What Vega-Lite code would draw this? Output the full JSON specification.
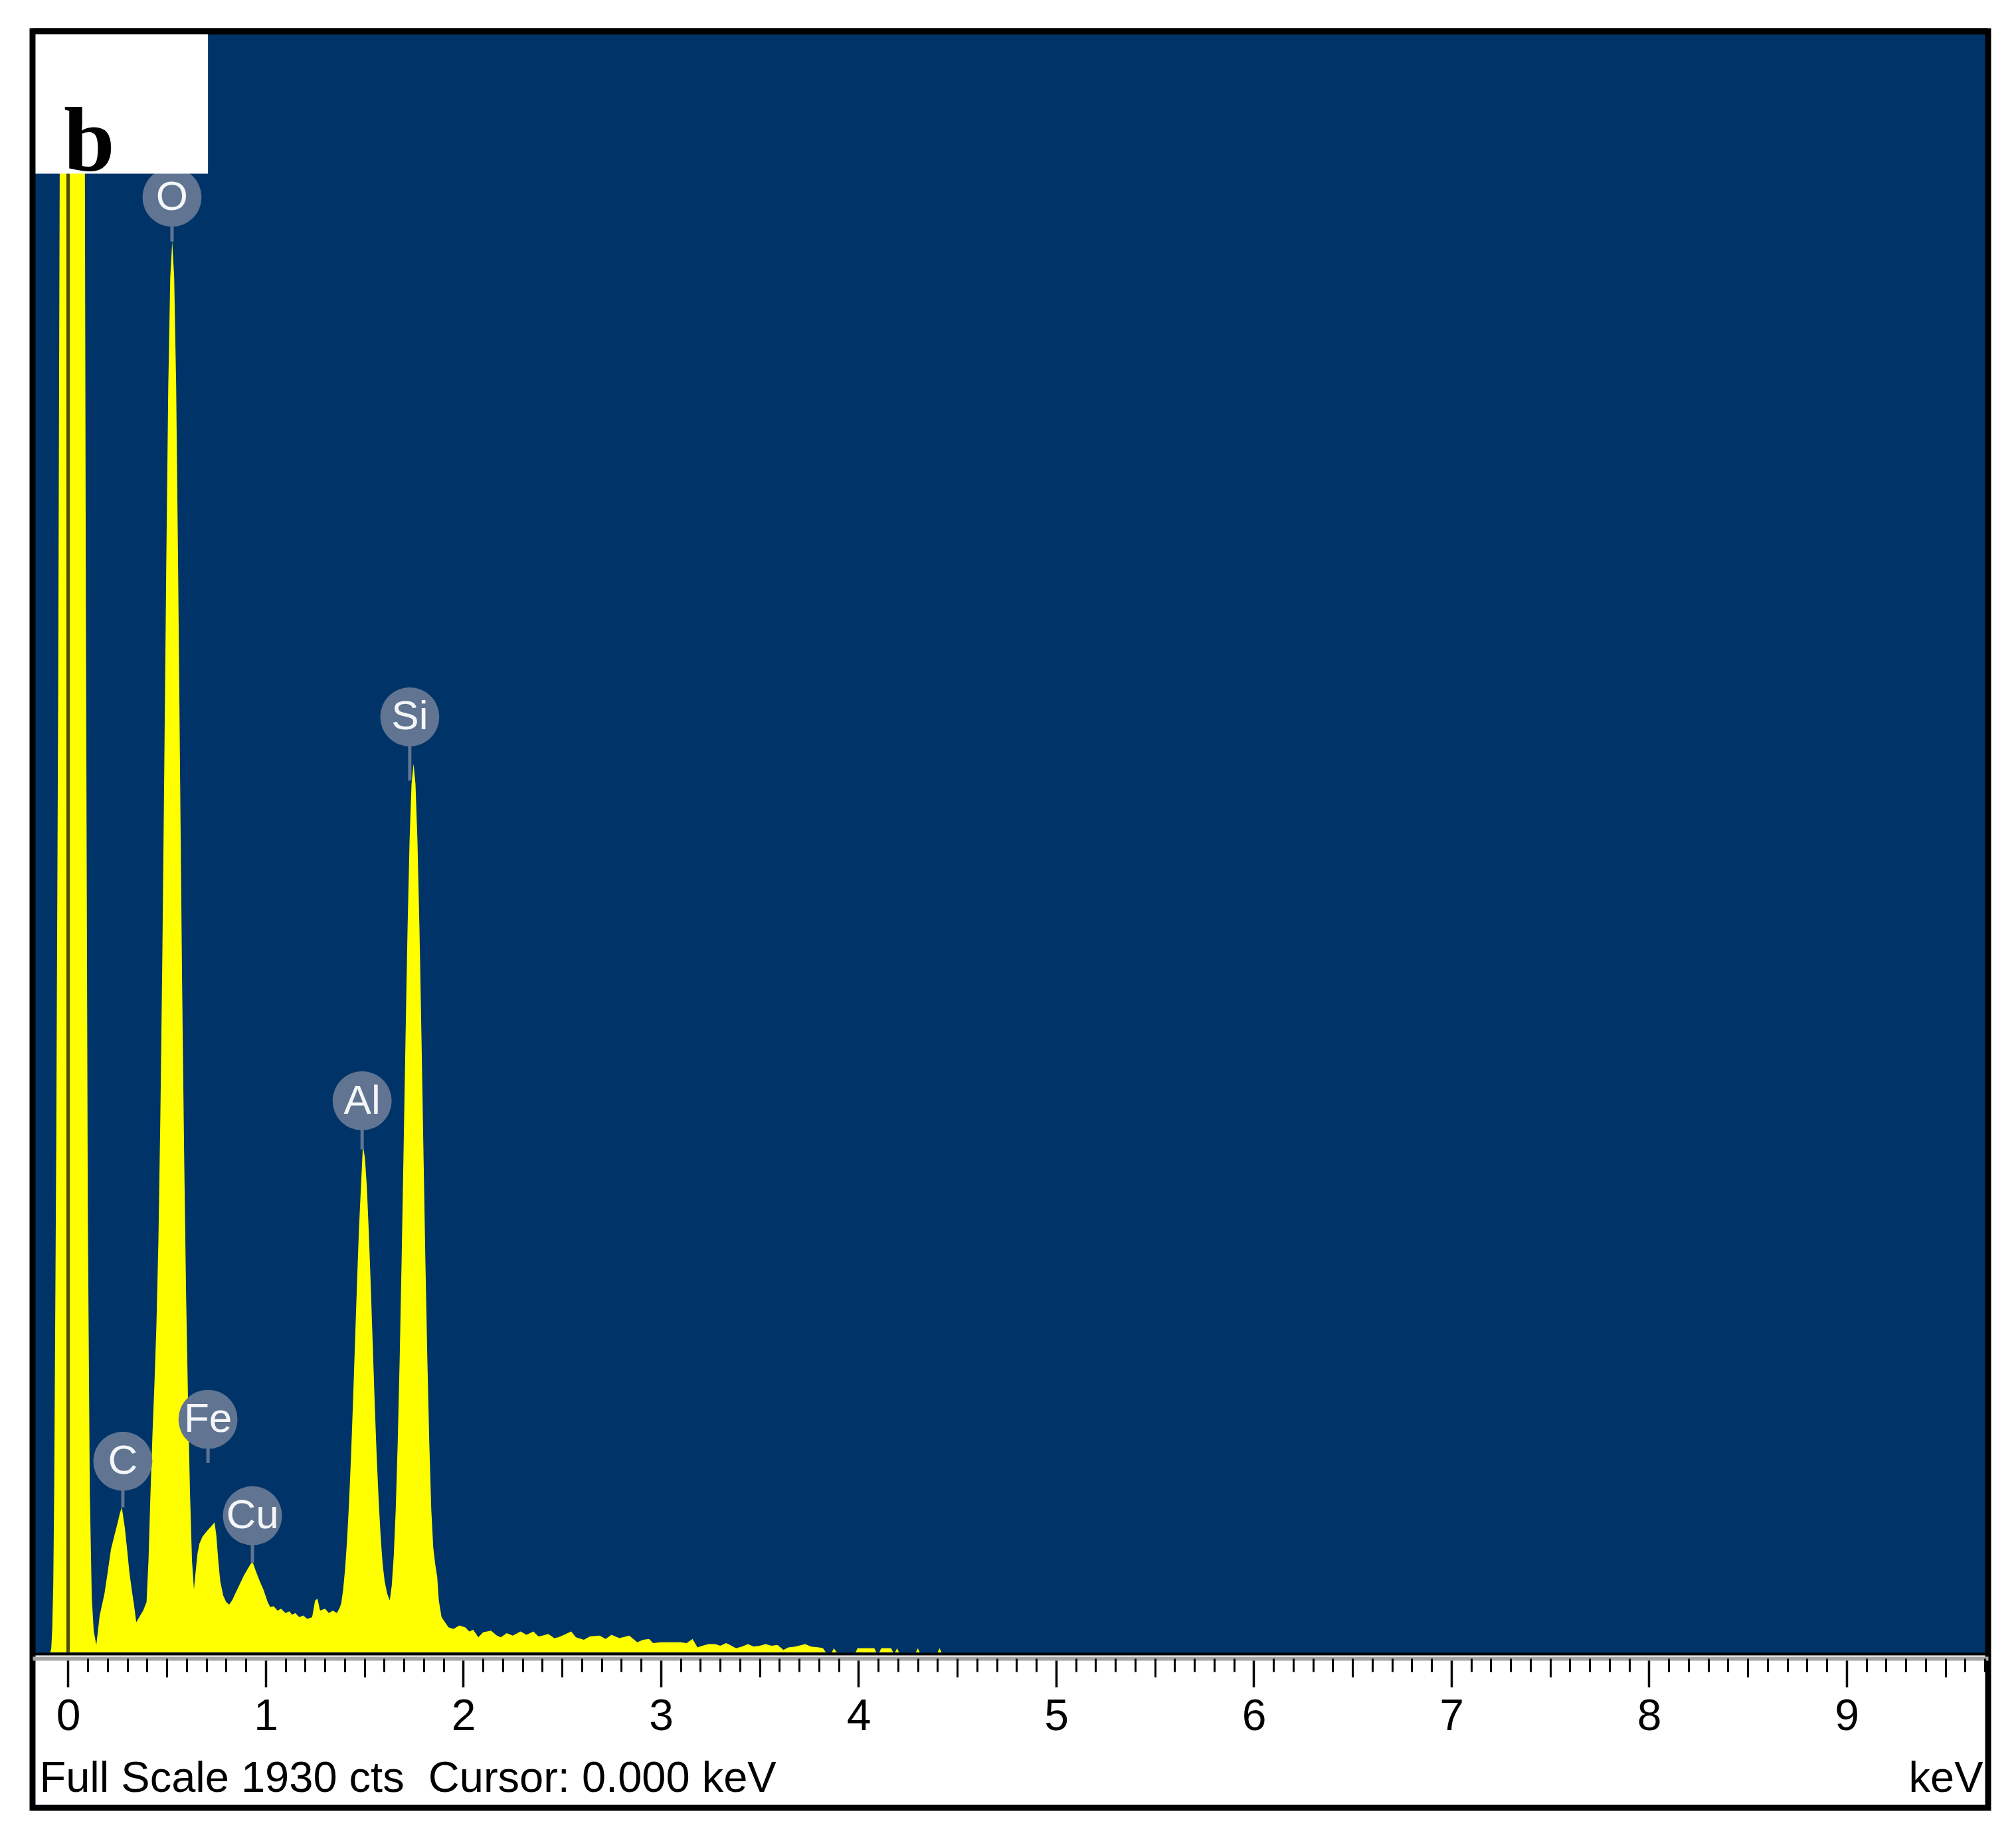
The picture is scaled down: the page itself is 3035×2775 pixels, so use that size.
{
  "$schema": "https://vega.github.io/schema/vega-lite/v6.json",
  "width": 2944,
  "height": 2675,
  "autosize": {"type": "none"},
  "padding": {"left": 49, "top": 47, "right": 42, "bottom": 53},
  "background": "#ffffff",
  "config": {"view": {"fill": "#003468", "stroke": "#000000", "strokeWidth": 9}},
  "datasets": {
    "spectrum": [
      {"e": -0.18, "c": 0}, {"e": -0.09, "c": 0}, {"e": -0.085, "c": 5}, {"e": -0.08, "c": 30}, {"e": -0.075, "c": 80},
      {"e": -0.07, "c": 200}, {"e": -0.06, "c": 600}, {"e": -0.05, "c": 1150}, {"e": -0.04, "c": 1950}, {"e": -0.03, "c": 2800},
      {"e": -0.02, "c": 3600}, {"e": 0, "c": 4000}, {"e": 0.02, "c": 4000}, {"e": 0.04, "c": 4000}, {"e": 0.06, "c": 3800},
      {"e": 0.07, "c": 3200}, {"e": 0.08, "c": 2300}, {"e": 0.09, "c": 1250}, {"e": 0.1, "c": 520}, {"e": 0.11, "c": 190},
      {"e": 0.12, "c": 65}, {"e": 0.13, "c": 25}, {"e": 0.143, "c": 9},
      {"e": 0.16, "c": 44}, {"e": 0.184, "c": 70}, {"e": 0.2, "c": 95}, {"e": 0.217, "c": 123}, {"e": 0.235, "c": 140},
      {"e": 0.25, "c": 154}, {"e": 0.262, "c": 166}, {"e": 0.272, "c": 173}, {"e": 0.287, "c": 149}, {"e": 0.3, "c": 120},
      {"e": 0.31, "c": 96}, {"e": 0.322, "c": 75}, {"e": 0.334, "c": 56}, {"e": 0.345, "c": 36},
      {"e": 0.36, "c": 42}, {"e": 0.38, "c": 50}, {"e": 0.397, "c": 60}, {"e": 0.407, "c": 110}, {"e": 0.417, "c": 190},
      {"e": 0.427, "c": 260}, {"e": 0.437, "c": 320}, {"e": 0.447, "c": 390}, {"e": 0.457, "c": 490}, {"e": 0.467, "c": 640},
      {"e": 0.477, "c": 830}, {"e": 0.487, "c": 1060}, {"e": 0.497, "c": 1300}, {"e": 0.507, "c": 1510}, {"e": 0.517, "c": 1640},
      {"e": 0.527, "c": 1683}, {"e": 0.537, "c": 1640}, {"e": 0.547, "c": 1510}, {"e": 0.557, "c": 1290}, {"e": 0.567, "c": 1040},
      {"e": 0.577, "c": 800}, {"e": 0.587, "c": 600}, {"e": 0.597, "c": 430}, {"e": 0.607, "c": 300}, {"e": 0.617, "c": 190},
      {"e": 0.627, "c": 110}, {"e": 0.637, "c": 75},
      {"e": 0.645, "c": 95}, {"e": 0.655, "c": 118}, {"e": 0.665, "c": 130}, {"e": 0.68, "c": 138}, {"e": 0.69, "c": 141},
      {"e": 0.7, "c": 144}, {"e": 0.715, "c": 148}, {"e": 0.73, "c": 152}, {"e": 0.741, "c": 155}, {"e": 0.75, "c": 140},
      {"e": 0.76, "c": 110}, {"e": 0.77, "c": 85}, {"e": 0.785, "c": 68}, {"e": 0.8, "c": 60}, {"e": 0.815, "c": 57},
      {"e": 0.83, "c": 62}, {"e": 0.85, "c": 72}, {"e": 0.87, "c": 82}, {"e": 0.89, "c": 92}, {"e": 0.91, "c": 100},
      {"e": 0.925, "c": 106}, {"e": 0.935, "c": 107}, {"e": 0.95, "c": 97}, {"e": 0.97, "c": 85}, {"e": 0.99, "c": 74},
      {"e": 1.01, "c": 60}, {"e": 1.023, "c": 54}, {"e": 1.04, "c": 55}, {"e": 1.06, "c": 50}, {"e": 1.078, "c": 52},
      {"e": 1.1, "c": 47}, {"e": 1.12, "c": 49}, {"e": 1.134, "c": 45}, {"e": 1.15, "c": 47}, {"e": 1.17, "c": 42},
      {"e": 1.19, "c": 44}, {"e": 1.21, "c": 40}, {"e": 1.235, "c": 42}, {"e": 1.25, "c": 62}, {"e": 1.262, "c": 64},
      {"e": 1.275, "c": 50}, {"e": 1.3, "c": 52}, {"e": 1.32, "c": 47}, {"e": 1.34, "c": 50}, {"e": 1.36, "c": 47},
      {"e": 1.372, "c": 52},
      {"e": 1.382, "c": 58}, {"e": 1.392, "c": 75}, {"e": 1.402, "c": 100}, {"e": 1.412, "c": 135}, {"e": 1.422, "c": 180},
      {"e": 1.432, "c": 235}, {"e": 1.442, "c": 300}, {"e": 1.452, "c": 370}, {"e": 1.462, "c": 440}, {"e": 1.472, "c": 505},
      {"e": 1.482, "c": 555}, {"e": 1.492, "c": 605}, {"e": 1.502, "c": 590}, {"e": 1.512, "c": 555}, {"e": 1.522, "c": 500},
      {"e": 1.532, "c": 435}, {"e": 1.542, "c": 365}, {"e": 1.552, "c": 295}, {"e": 1.562, "c": 232}, {"e": 1.572, "c": 180},
      {"e": 1.582, "c": 137}, {"e": 1.592, "c": 105}, {"e": 1.602, "c": 85}, {"e": 1.615, "c": 70}, {"e": 1.628, "c": 62},
      {"e": 1.638, "c": 80}, {"e": 1.648, "c": 115}, {"e": 1.658, "c": 170}, {"e": 1.668, "c": 250}, {"e": 1.678, "c": 350},
      {"e": 1.688, "c": 470}, {"e": 1.698, "c": 602}, {"e": 1.708, "c": 738}, {"e": 1.718, "c": 865}, {"e": 1.728, "c": 968},
      {"e": 1.738, "c": 1036}, {"e": 1.748, "c": 1060}, {"e": 1.758, "c": 1036}, {"e": 1.768, "c": 968}, {"e": 1.778, "c": 865},
      {"e": 1.788, "c": 738}, {"e": 1.798, "c": 602}, {"e": 1.808, "c": 469}, {"e": 1.818, "c": 350}, {"e": 1.828, "c": 249},
      {"e": 1.838, "c": 170}, {"e": 1.848, "c": 125}, {"e": 1.858, "c": 105}, {"e": 1.868, "c": 90}, {"e": 1.876, "c": 62},
      {"e": 1.89, "c": 42}, {"e": 1.925, "c": 30},
      {"e": 1.95, "c": 28}, {"e": 1.98, "c": 32}, {"e": 2.01, "c": 30}, {"e": 2.03, "c": 25}, {"e": 2.05, "c": 27},
      {"e": 2.076, "c": 18}, {"e": 2.1, "c": 24}, {"e": 2.14, "c": 26}, {"e": 2.17, "c": 20}, {"e": 2.19, "c": 18},
      {"e": 2.22, "c": 23}, {"e": 2.25, "c": 20}, {"e": 2.29, "c": 25}, {"e": 2.32, "c": 21}, {"e": 2.355, "c": 25},
      {"e": 2.38, "c": 19}, {"e": 2.4, "c": 20}, {"e": 2.43, "c": 22}, {"e": 2.46, "c": 17}, {"e": 2.48, "c": 18},
      {"e": 2.51, "c": 21}, {"e": 2.546, "c": 25}, {"e": 2.57, "c": 18}, {"e": 2.61, "c": 15}, {"e": 2.64, "c": 19},
      {"e": 2.69, "c": 20}, {"e": 2.72, "c": 16}, {"e": 2.75, "c": 21}, {"e": 2.79, "c": 17}, {"e": 2.84, "c": 20},
      {"e": 2.88, "c": 12}, {"e": 2.91, "c": 15}, {"e": 2.94, "c": 16}, {"e": 2.96, "c": 11}, {"e": 3.0, "c": 12},
      {"e": 3.05, "c": 12}, {"e": 3.1, "c": 12}, {"e": 3.13, "c": 11}, {"e": 3.16, "c": 16}, {"e": 3.185, "c": 6},
      {"e": 3.21, "c": 8}, {"e": 3.24, "c": 10}, {"e": 3.275, "c": 10}, {"e": 3.3, "c": 8}, {"e": 3.33, "c": 11},
      {"e": 3.35, "c": 9}, {"e": 3.38, "c": 5}, {"e": 3.41, "c": 7}, {"e": 3.44, "c": 10}, {"e": 3.47, "c": 7},
      {"e": 3.5, "c": 8}, {"e": 3.53, "c": 10}, {"e": 3.56, "c": 8}, {"e": 3.59, "c": 9}, {"e": 3.62, "c": 3},
      {"e": 3.645, "c": 6}, {"e": 3.68, "c": 7}, {"e": 3.73, "c": 10}, {"e": 3.76, "c": 7}, {"e": 3.8, "c": 6},
      {"e": 3.82, "c": 5}, {"e": 3.835, "c": 0}, {"e": 3.865, "c": 0}, {"e": 3.875, "c": 5}, {"e": 3.89, "c": 0},
      {"e": 3.985, "c": 0}, {"e": 3.995, "c": 5}, {"e": 4.04, "c": 5}, {"e": 4.08, "c": 5}, {"e": 4.09, "c": 0},
      {"e": 4.105, "c": 0}, {"e": 4.115, "c": 5}, {"e": 4.165, "c": 5}, {"e": 4.175, "c": 0}, {"e": 4.185, "c": 0},
      {"e": 4.195, "c": 5}, {"e": 4.205, "c": 0}, {"e": 4.29, "c": 0}, {"e": 4.3, "c": 5}, {"e": 4.31, "c": 0},
      {"e": 4.4, "c": 0}, {"e": 4.41, "c": 5}, {"e": 4.42, "c": 0}, {"e": 9.716, "c": 0}
    ],
    "labels": [
      {"el": "O", "e": 0.526, "ly": 1736, "sy": 1683},
      {"el": "C", "e": 0.277, "ly": 228, "sy": 173},
      {"el": "Fe", "e": 0.708, "ly": 278, "sy": 226},
      {"el": "Cu", "e": 0.933, "ly": 163, "sy": 107},
      {"el": "Al", "e": 1.488, "ly": 658, "sy": 600},
      {"el": "Si", "e": 1.729, "ly": 1116, "sy": 1040}
    ]
  },
  "resolve": {"axis": {"x": "independent"}},
  "layer": [
    {
      "data": {"values": [{"part": "axis strip"}]},
      "mark": {"type": "rect", "fill": "#ffffff"},
      "encoding": {
        "x": {"datum": -0.1647, "type": "quantitative", "scale": {"domain": [-0.1798, 9.716], "nice": false, "zero": false}, "axis": null},
        "x2": {"datum": 9.701},
        "y": {"datum": -3.2, "type": "quantitative", "scale": {"domain": [-185.4, 1934], "nice": false, "zero": false}, "axis": null},
        "y2": {"datum": -181.8}
      }
    },
    {
      "data": {"name": "spectrum"},
      "mark": {"type": "area", "color": "#ffff00", "clip": true, "interpolate": "linear"},
      "encoding": {
        "x": {
          "field": "e", "type": "quantitative",
          "scale": {"domain": [-0.1798, 9.716], "nice": false, "zero": false},
          "axis": {
            "orient": "bottom", "offset": -225, "zindex": 1, "grid": false,
            "values": [0, 1, 2, 3, 4, 5, 6, 7, 8, 9], "format": "d",
            "domain": true, "domainColor": "#a6a6a6", "domainWidth": 6,
            "ticks": true, "tickSize": 43, "tickWidth": 3.5, "tickColor": "#000000",
            "labels": true, "labelFont": "Liberation Sans", "labelFontSize": 66, "labelColor": "#000000",
            "labelPadding": 12, "labelFlush": false, "labelOverlap": false,
            "title": "keV", "titleFont": "Liberation Sans", "titleFontSize": 65, "titleFontWeight": "normal",
            "titleColor": "#000000", "titleAlign": "right", "titleBaseline": "alphabetic", "titleX": 2936, "titleY": 200
          }
        },
        "y": {"field": "c", "type": "quantitative", "scale": {"domain": [-185.4, 1934], "nice": false, "zero": false}, "axis": null},
        "y2": {"datum": 0}
      }
    },
    {
      "data": {"values": [{"part": "baseline"}]},
      "mark": {"type": "rule", "color": "#000000", "strokeWidth": 4},
      "encoding": {
        "y": {"datum": -2, "type": "quantitative", "scale": {"domain": [-185.4, 1934], "nice": false, "zero": false}, "axis": null}
      }
    },
    {
      "data": {"values": [{"part": "cursor"}]},
      "mark": {"type": "rule", "color": "#000000", "strokeWidth": 5, "opacity": 0.7},
      "encoding": {
        "x": {"datum": 0, "type": "quantitative", "scale": {"domain": [-0.1798, 9.716], "nice": false, "zero": false}, "axis": null},
        "y": {"datum": 0, "type": "quantitative", "scale": {"domain": [-185.4, 1934], "nice": false, "zero": false}, "axis": null},
        "y2": {"datum": 1934}
      }
    },
    {
      "data": {"name": "labels"},
      "mark": {"type": "rule", "color": "#617592", "strokeWidth": 5},
      "encoding": {
        "x": {
          "field": "e", "type": "quantitative",
          "scale": {"domain": [-0.1798, 9.716], "nice": false, "zero": false},
          "axis": {
            "orient": "bottom", "offset": -225, "zindex": 1, "grid": false,
            "values": [0.5, 1.5, 2.5, 3.5, 4.5, 5.5, 6.5, 7.5, 8.5, 9.5],
            "domain": false, "ticks": true, "tickSize": 28, "tickWidth": 3, "tickColor": "#000000",
            "labels": false,
            "title": "Full Scale 1930 cts\u00a0 Cursor: 0.000 keV", "titleFont": "Liberation Sans", "titleFontSize": 65,
            "titleFontWeight": "normal", "titleColor": "#000000", "titleAlign": "left", "titleBaseline": "alphabetic",
            "titleX": 10, "titleY": 200
          }
        },
        "y": {"field": "ly", "type": "quantitative", "scale": {"domain": [-185.4, 1934], "nice": false, "zero": false}, "axis": null},
        "y2": {"field": "sy"}
      }
    },
    {
      "data": {"name": "labels"},
      "mark": {"type": "point", "shape": "circle", "filled": true, "color": "#617592", "opacity": 1, "size": 7900},
      "encoding": {
        "x": {
          "field": "e", "type": "quantitative",
          "scale": {"domain": [-0.1798, 9.716], "nice": false, "zero": false},
          "axis": {
            "orient": "bottom", "offset": -225, "zindex": 1, "grid": false,
            "values": [0.1, 0.2, 0.3, 0.4, 0.6, 0.7, 0.8, 0.9, 1.1, 1.2, 1.3, 1.4, 1.6, 1.7, 1.8, 1.9,
                       2.1, 2.2, 2.3, 2.4, 2.6, 2.7, 2.8, 2.9, 3.1, 3.2, 3.3, 3.4, 3.6, 3.7, 3.8, 3.9,
                       4.1, 4.2, 4.3, 4.4, 4.6, 4.7, 4.8, 4.9, 5.1, 5.2, 5.3, 5.4, 5.6, 5.7, 5.8, 5.9,
                       6.1, 6.2, 6.3, 6.4, 6.6, 6.7, 6.8, 6.9, 7.1, 7.2, 7.3, 7.4, 7.6, 7.7, 7.8, 7.9,
                       8.1, 8.2, 8.3, 8.4, 8.6, 8.7, 8.8, 8.9, 9.1, 9.2, 9.3, 9.4, 9.6, 9.7],
            "domain": false, "ticks": true, "tickSize": 20, "tickWidth": 3, "tickColor": "#000000",
            "labels": false, "title": null
          }
        },
        "y": {"field": "ly", "type": "quantitative", "scale": {"domain": [-185.4, 1934], "nice": false, "zero": false}, "axis": null}
      }
    },
    {
      "data": {"name": "labels"},
      "mark": {"type": "text", "color": "#f4f6f8", "font": "Liberation Sans", "fontSize": 62, "align": "center", "baseline": "middle"},
      "encoding": {
        "x": {"field": "e", "type": "quantitative", "scale": {"domain": [-0.1798, 9.716], "nice": false, "zero": false}, "axis": null},
        "y": {"field": "ly", "type": "quantitative", "scale": {"domain": [-185.4, 1934], "nice": false, "zero": false}, "axis": null},
        "text": {"field": "el"}
      }
    },
    {
      "data": {"values": [{"panel": "b"}]},
      "mark": {"type": "rect", "fill": "#ffffff"},
      "encoding": {
        "x": {"datum": -0.1647, "type": "quantitative", "scale": {"domain": [-0.1798, 9.716], "nice": false, "zero": false}, "axis": null},
        "x2": {"datum": 0.708},
        "y": {"datum": 1764, "type": "quantitative", "scale": {"domain": [-185.4, 1934], "nice": false, "zero": false}, "axis": null},
        "y2": {"datum": 1934}
      }
    },
    {
      "data": {"values": [{"part": "top border"}]},
      "mark": {"type": "rule", "color": "#000000", "strokeWidth": 9},
      "encoding": {
        "y": {"datum": 1934, "type": "quantitative", "scale": {"domain": [-185.4, 1934], "nice": false, "zero": false}, "axis": null}
      }
    },
    {
      "data": {"values": [{"panel": "b"}]},
      "mark": {"type": "text", "color": "#000000", "font": "Liberation Serif", "fontWeight": "bold", "fontSize": 138, "align": "left", "baseline": "alphabetic"},
      "encoding": {
        "x": {"datum": -0.022, "type": "quantitative", "scale": {"domain": [-0.1798, 9.716], "nice": false, "zero": false}, "axis": null},
        "y": {"datum": 1768, "type": "quantitative", "scale": {"domain": [-185.4, 1934], "nice": false, "zero": false}, "axis": null},
        "text": {"field": "panel"}
      }
    }
  ]
}
